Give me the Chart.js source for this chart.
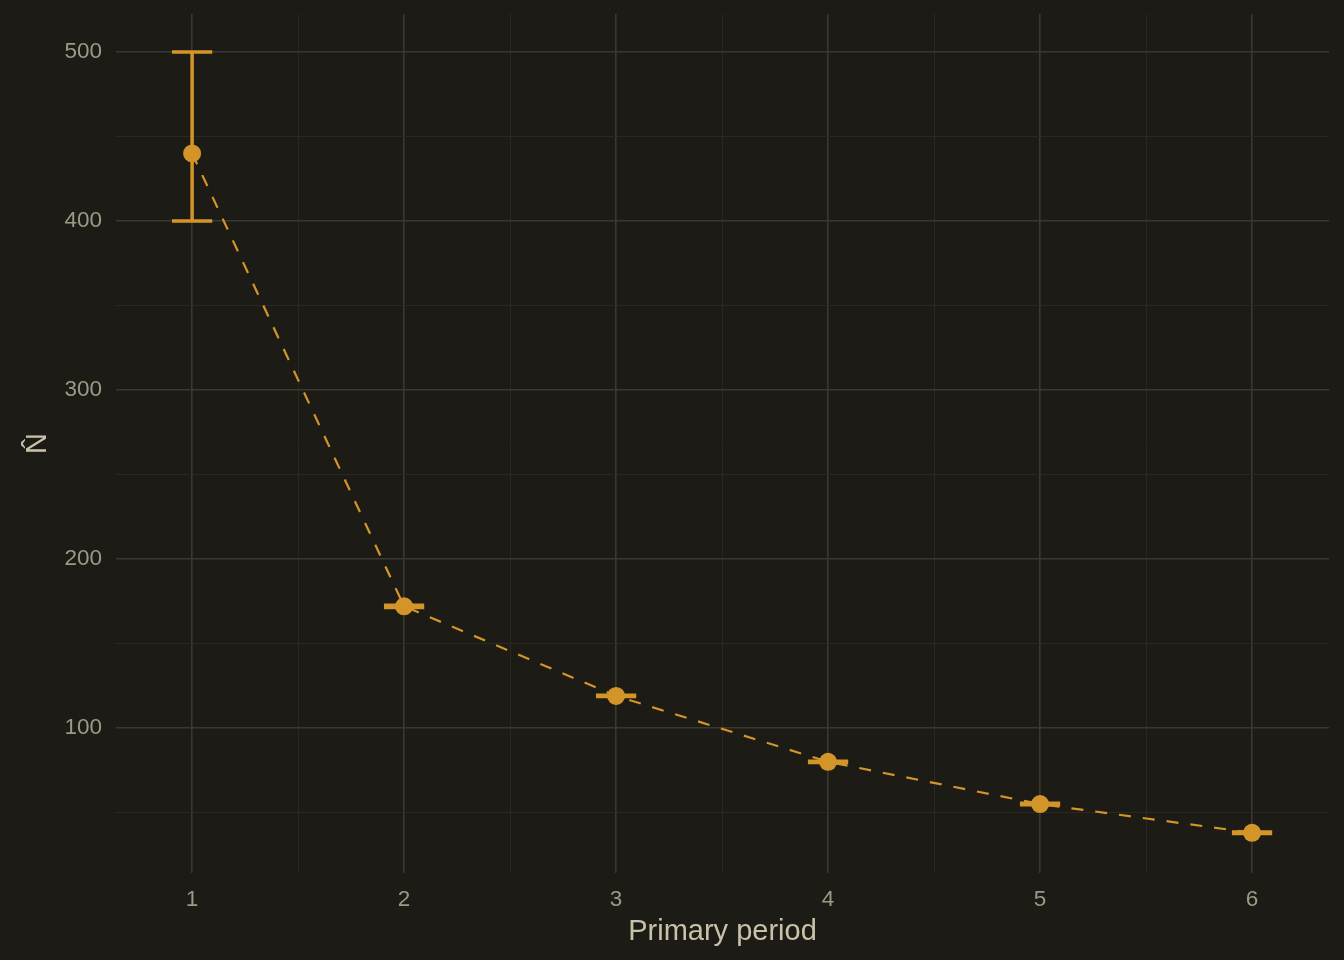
<!DOCTYPE html>
<html>
<head>
<meta charset="utf-8">
<script src="https://cdn.jsdelivr.net/npm/chart.js@4"></script>
<style>
  html, body { margin: 0; padding: 0; background: #1c1b15; }
  #wrap { width: 1344px; height: 960px; }
</style>
</head>
<body>
<div id="wrap"><canvas id="chart" width="1344" height="960"></canvas></div>
<script>
//data
const periods = [1, 2, 3, 4, 5, 6];
const nHat = [440, 172, 119, 80, 55, 38];
const lower = [400, 171.3, 118.6, 79.6, 54.6, 37.6];
const upper = [500, 172.7, 119.4, 80.4, 55.4, 38.4];

//tick values (majors get labels, the halves are minor grid lines)
const xTicks = [1, 1.5, 2, 2.5, 3, 3.5, 4, 4.5, 5, 5.5, 6];
const yTicks = [50, 100, 150, 200, 250, 300, 350, 400, 450, 500];

//colours
const BG = '#1c1b15';
const ACCENT = '#d3952a';
const MAJOR_GRID = '#3a392f';
const MINOR_GRID = '#2a2921';
const TICK_TEXT = '#9e9986';
const TITLE_TEXT = '#c9c1a8';

//error bar width in x units
const CAP_WIDTH = 0.19;

const points = periods.map((p, i) => ({ x: p, y: nHat[i] }));

//background fill
const bgPlugin = {
    id: 'bg',
    beforeDraw: (chart) => {
        const ctx = chart.ctx;
        ctx.save();
        ctx.fillStyle = BG;
        ctx.fillRect(0, 0, chart.width, chart.height);
        ctx.restore();
    },
};

//error bars drawn under the line and the points
const errorBarPlugin = {
    id: 'errorBars',
    beforeDatasetsDraw: (chart) => {
        const ctx = chart.ctx;
        const xs = chart.scales.x;
        const ys = chart.scales.y;
        ctx.save();
        ctx.strokeStyle = ACCENT;
        ctx.lineWidth = 3.5;
        ctx.lineCap = 'butt';
        periods.forEach((p, i) => {
            const x = xs.getPixelForValue(p);
            const x0 = xs.getPixelForValue(p - CAP_WIDTH / 2);
            const x1 = xs.getPixelForValue(p + CAP_WIDTH / 2);
            const yLo = ys.getPixelForValue(lower[i]);
            const yHi = ys.getPixelForValue(upper[i]);
            ctx.beginPath();
            ctx.moveTo(x, yLo);
            ctx.lineTo(x, yHi);
            ctx.moveTo(x0, yLo);
            ctx.lineTo(x1, yLo);
            ctx.moveTo(x0, yHi);
            ctx.lineTo(x1, yHi);
            ctx.stroke();
        });
        ctx.restore();
    },
};

//no extra room for labels sticking out, the layout padding handles it
const zeroPadding = (scale) => {
    scale.paddingTop = 0;
    scale.paddingBottom = 0;
    scale.paddingLeft = 0;
    scale.paddingRight = 0;
};

new Chart(document.getElementById('chart'), {
    type: 'line',
    data: {
        datasets: [
            {
                data: points,
                borderColor: ACCENT,
                backgroundColor: ACCENT,
                borderWidth: 2.2,
                borderDash: [12, 12],
                pointRadius: 9,
                pointBorderWidth: 0,
                pointBackgroundColor: ACCENT,
                tension: 0,
            },
        ],
    },
    plugins: [bgPlugin, errorBarPlugin],
    options: {
        responsive: false,
        animation: false,
        layout: { padding: { top: 14, right: 15, left: 0, bottom: 0 } },
        plugins: {
            legend: { display: false },
            tooltip: { enabled: false },
        },
        scales: {
            x: {
                type: 'linear',
                min: 0.641,
                max: 6.363,
                afterBuildTicks: (scale) => {
                    scale.ticks = xTicks.map((v) => ({ value: v }));
                },
                afterFit: (scale) => {
                    scale.height = 87;
                    zeroPadding(scale);
                },
                border: { display: false },
                grid: {
                    drawTicks: false,
                    lineWidth: (c) => (Number.isInteger(c.tick.value) ? 1.6 : 1),
                    color: (c) => (Number.isInteger(c.tick.value) ? MAJOR_GRID : MINOR_GRID),
                },
                ticks: {
                    autoSkip: false,
                    maxRotation: 0,
                    padding: 13,
                    color: TICK_TEXT,
                    font: { family: 'Liberation Sans', size: 22.5 },
                    callback: (v) => (Number.isInteger(v) ? String(v) : ''),
                },
                title: {
                    display: true,
                    text: 'Primary period',
                    color: TITLE_TEXT,
                    font: { family: 'Liberation Sans', size: 29 },
                    padding: { top: 0, bottom: 11 },
                },
            },
            y: {
                type: 'linear',
                min: 14.2,
                max: 522.5,
                afterBuildTicks: (scale) => {
                    scale.ticks = yTicks.map((v) => ({ value: v }));
                },
                afterFit: (scale) => {
                    scale.width = 116;
                    zeroPadding(scale);
                },
                border: { display: false },
                grid: {
                    drawTicks: false,
                    lineWidth: (c) => (c.tick.value % 100 === 0 ? 1.6 : 1),
                    color: (c) => (c.tick.value % 100 === 0 ? MAJOR_GRID : MINOR_GRID),
                },
                ticks: {
                    autoSkip: false,
                    padding: 14,
                    color: TICK_TEXT,
                    font: { family: 'Liberation Sans', size: 22.5 },
                    callback: (v) => (v % 100 === 0 ? String(v) : ''),
                },
                title: {
                    display: true,
                    text: 'N\u0302',
                    color: TITLE_TEXT,
                    font: { family: 'Liberation Sans', size: 29 },
                    padding: { top: 21, bottom: 0 },
                },
            },
        },
    },
});
</script>
</body>
</html>
